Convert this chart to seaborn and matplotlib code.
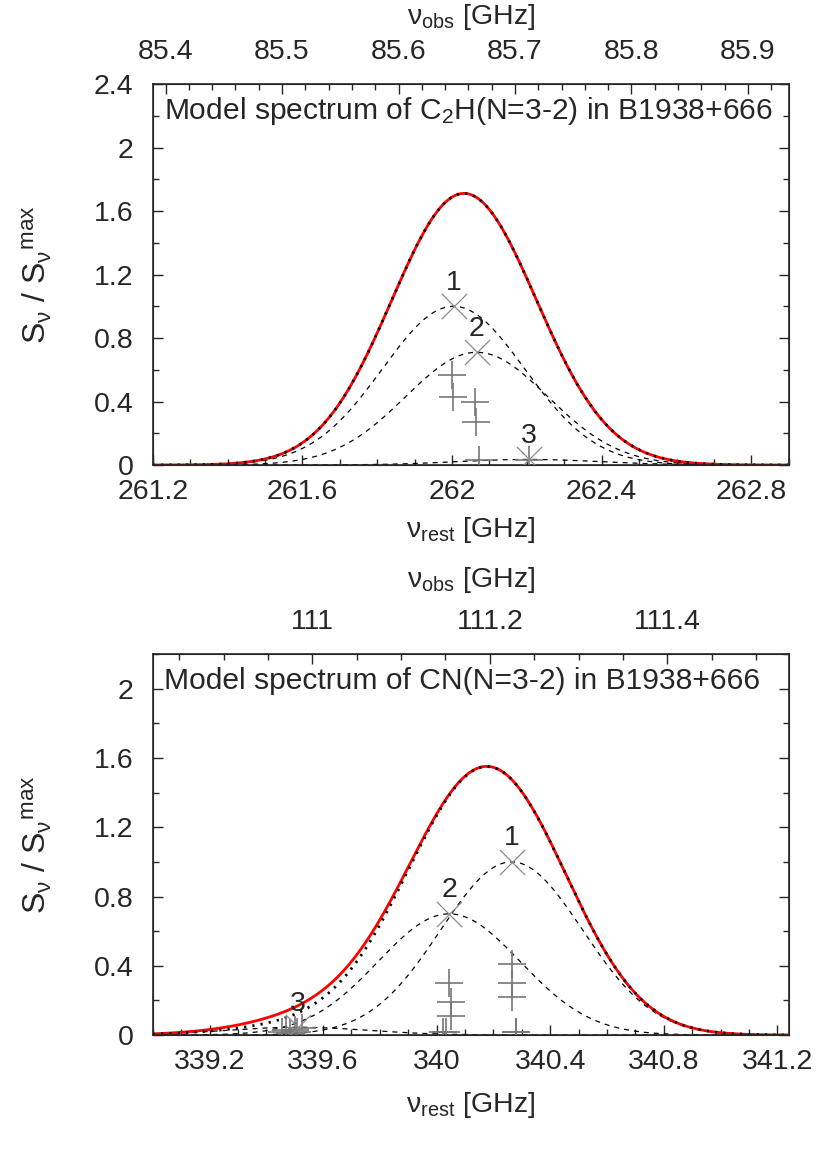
import numpy as np
import pandas as pd
import matplotlib
matplotlib.use("Agg")
import matplotlib.pyplot as plt
from matplotlib.ticker import MultipleLocator, FuncFormatter
import seaborn as sns

# ---------------- C2H(N=3-2) panel ----------------
c2h_xlim = (261.2, 262.9)          # rest frequency [GHz]
c2h_obs_xlim = (85.389, 85.935)    # observed frequency [GHz]
c2h_ylim = (0, 2.4)
# Gaussian components (dashed): centre, peak
c2h_comp_center = [262.004, 262.066, 262.205]
c2h_comp_peak = [1.0, 0.71, 0.035]
c2h_sigma = 0.19
c2h_labels = ["1", "2", "3"]
# hyperfine lines (+)
c2h_hfs_freq = [262.000, 262.003, 262.062, 262.065, 262.073, 262.205]
c2h_hfs_int = [0.57, 0.43, 0.40, 0.27, 0.03, 0.03]

# ---------------- CN(N=3-2) panel ----------------
cn_xlim = (339.0, 341.24)
cn_obs_xlim = (110.820, 111.537)
cn_ylim = (0, 2.2)
cn_comp_center = [340.264, 340.044, 339.51]
cn_comp_peak = [1.0, 0.70, 0.045]
cn_sigma = 0.25
cn_labels = ["1", "2", "3"]
# broad low wing present only in the full (red) model
cn_wing_center = 339.6
cn_wing_peak = 0.045
cn_wing_sigma = 0.22
cn_hfs_freq = [340.264, 340.264, 340.265, 340.278, 340.281,
               340.045, 340.049, 340.049, 340.022, 340.033,
               339.455, 339.468, 339.484, 339.500, 339.508, 339.525]
cn_hfs_int = [0.41, 0.30, 0.22, 0.02, 0.02,
              0.30, 0.19, 0.11, 0.02, 0.02,
              0.02, 0.03, 0.01, 0.03, 0.02, 0.04]

sns.set_style("ticks")
plt.rcParams["font.family"] = ["Liberation Sans", "DejaVu Sans"]
plt.rcParams["mathtext.fontset"] = "custom"
plt.rcParams["mathtext.rm"] = "Liberation Sans"
plt.rcParams["mathtext.it"] = "Liberation Sans:italic"
plt.rcParams["mathtext.default"] = "regular"

FS = 20.5


def gauss(x, c, a, s):
    return a * np.exp(-(x - c) ** 2 / (2 * s ** 2))


def draw_panel(ax, xlim, obs_xlim, ylim, centers, peaks, sigma, labels,
               hfs_f, hfs_i, title, obs_major, obs_minor, wing=None):
    nu = np.linspace(xlim[0], xlim[1], 800)
    comps = [gauss(nu, c, a, sigma) for c, a in zip(centers, peaks)]
    total = np.sum(comps, axis=0)
    red = total.copy()
    if wing is not None:
        red = red + gauss(nu, *wing)

    for comp in comps:
        sns.lineplot(x=nu, y=comp, ax=ax, color="black", lw=0.9,
                     linestyle=(0, (4, 4)))
    sns.lineplot(x=nu, y=red, ax=ax, color="red", lw=2.0)
    sns.lineplot(x=nu, y=total, ax=ax, color="black", lw=2.0,
                 linestyle=(0, (0.8, 2.2)))

    sns.scatterplot(x=hfs_f, y=hfs_i, ax=ax, marker="+", s=420,
                    color="#777777", linewidth=1.2, zorder=5)
    sns.scatterplot(x=centers, y=peaks, ax=ax, marker="x", s=330,
                    color="#8c8c8c", linewidth=0.9, zorder=5)
    for c, a, lab in zip(centers, peaks, labels):
        ax.annotate(lab, (c, a), xytext=(0, 17), textcoords="offset points",
                    ha="center", va="center", fontsize=FS)

    ax.set_xlim(*xlim)
    ax.set_ylim(*ylim)
    ax.xaxis.set_major_locator(MultipleLocator(0.4))
    ax.xaxis.set_minor_locator(MultipleLocator(0.1))
    ax.yaxis.set_major_locator(MultipleLocator(0.4))
    ax.yaxis.set_minor_locator(MultipleLocator(0.2))
    fmt = FuncFormatter(lambda v, p: "%g" % round(v, 3))
    ax.xaxis.set_major_formatter(fmt)
    ax.yaxis.set_major_formatter(fmt)
    ax.tick_params(which="both", direction="in", right=True, top=False,
                   labelsize=FS, width=1)
    ax.tick_params(axis="x", which="major", length=7, pad=10)
    ax.tick_params(axis="y", which="major", length=7, pad=14)
    ax.tick_params(which="minor", length=4)
    for sp in ax.spines.values():
        sp.set_linewidth(1.2)

    ax.text(0.018, 0.93, title, transform=ax.transAxes, fontsize=21.6,
            ha="left", va="center")

    ax.set_xlabel(r"$\mathrm{ν_{rest}}$ [GHz]", fontsize=FS)
    ax.set_ylabel(r"$\mathrm{S_{ν}\ /\ S_{ν}{}^{max}}$", fontsize=23)

    ax2 = ax.twiny()
    ax2.set_xlim(*obs_xlim)
    ax2.xaxis.set_major_locator(MultipleLocator(obs_major))
    ax2.xaxis.set_minor_locator(MultipleLocator(obs_minor))
    ax2.xaxis.set_major_formatter(fmt)
    ax2.tick_params(which="both", direction="in", labelsize=FS, width=1)
    ax2.tick_params(which="major", length=7, pad=14)
    ax2.tick_params(which="minor", length=4)
    ax2.set_xlabel(r"$\mathrm{ν_{obs}}$ [GHz]", fontsize=FS)
    return ax2


fig = plt.figure(figsize=(8.3, 11.53), dpi=100)
ax_top = fig.add_axes([0.1840, 0.5967, 0.7663, 0.3304])
ax_bot = fig.add_axes([0.1840, 0.1023, 0.7663, 0.3304])

t2 = draw_panel(ax_top, c2h_xlim, c2h_obs_xlim, c2h_ylim, c2h_comp_center,
                c2h_comp_peak, c2h_sigma, c2h_labels, c2h_hfs_freq, c2h_hfs_int,
                r"Model spectrum of C$_2$H(N=3-2) in B1938+666", 0.1, 0.02)
b2 = draw_panel(ax_bot, cn_xlim, cn_obs_xlim, cn_ylim, cn_comp_center,
                cn_comp_peak, cn_sigma, cn_labels, cn_hfs_freq, cn_hfs_int,
                "Model spectrum of CN(N=3-2) in B1938+666", 0.2, 0.05,
                wing=(cn_wing_center, cn_wing_peak, cn_wing_sigma))

# label placement (axes fraction)
for ax, a2, yb, yt in [(ax_top, t2, -0.17, 1.176), (ax_bot, b2, -0.184, 1.194)]:
    ax.yaxis.set_label_coords(-0.155, 0.5)
    ax.xaxis.set_label_coords(0.5, yb)
    ax.xaxis.label.set_va("center")
    a2.xaxis.set_label_coords(0.5, yt)
    a2.xaxis.label.set_va("center")

fig.savefig("out.png", dpi=100, facecolor="white")
